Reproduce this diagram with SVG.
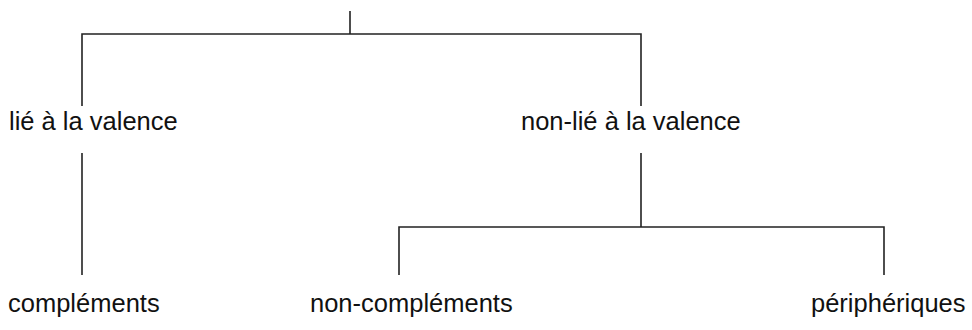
<svg xmlns="http://www.w3.org/2000/svg" width="972" height="330" viewBox="0 0 972 330">
<style>
.t{font-family:"Liberation Sans",Arial,sans-serif;font-size:25.5px;fill:#111}
.c{fill:none;stroke:#222;stroke-width:1.6}
</style>
<rect width="972" height="330" fill="#fff"/>
<g id="connectors">
<path class="c" d="M350,11V34M82,106V34H641V106"/>
<path class="c" d="M82,153V275"/>
<path class="c" d="M641,153V227M399,275V227H884V275"/>
</g>
<g id="n-lie"><text class="t" x="9" y="130">lié à la valence</text></g>
<g id="n-nonlie"><text class="t" x="521" y="130">non-lié à la valence</text></g>
<g id="n-complements"><text class="t" x="8" y="312">compléments</text></g>
<g id="n-noncomplements"><text class="t" x="310" y="312">non-compléments</text></g>
<g id="n-peripheriques"><text class="t" x="811" y="312">périphériques</text></g>
</svg>
